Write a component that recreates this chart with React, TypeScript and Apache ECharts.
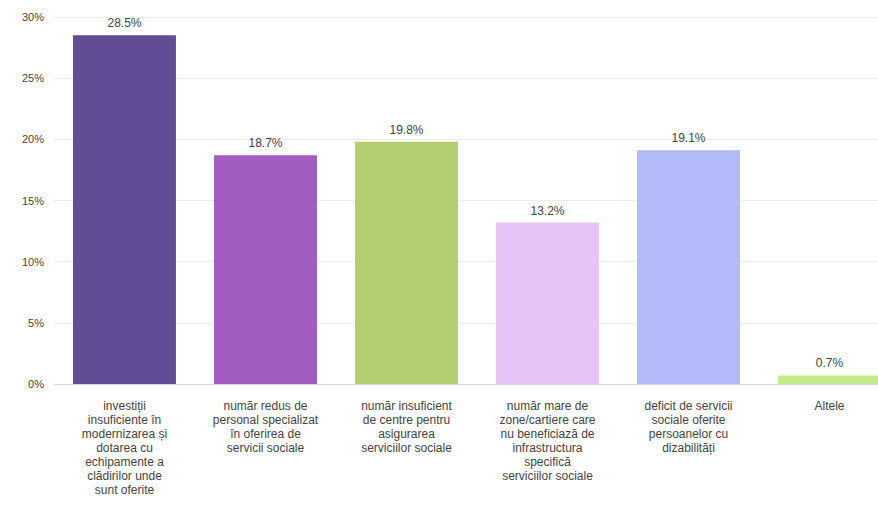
import React, { useEffect, useRef } from "react";
import * as echarts from "echarts";

const categories = [
  "investiții\ninsuficiente în\nmodernizarea și\ndotarea cu\nechipamente a\nclădirilor unde\nsunt oferite",
  "număr redus de\npersonal specializat\nîn oferirea de\nservicii sociale",
  "număr insuficient\nde centre pentru\nasigurarea\nserviciilor sociale",
  "număr mare de\nzone/cartiere care\nnu beneficiază de\ninfrastructura\nspecifică\nserviciilor sociale",
  "deficit de servicii\nsociale oferite\npersoanelor cu\ndizabilități",
  "Altele",
];
const values = [28.5, 18.7, 19.8, 13.2, 19.1, 0.7];
const colors = ["#624C96", "#A25DC2", "#B3CE6E", "#E6C4F5", "#B3BAFA", "#C2EA8A"];

export default function App() {
  const ref = useRef<HTMLDivElement>(null);
  useEffect(() => {
    const chart = echarts.init(ref.current!, undefined, { renderer: "svg" });
    chart.setOption({
      animation: false,
      grid: { left: 54, right: 0, top: 17, bottom: 124, containLabel: false },
      xAxis: {
        type: "category",
        data: categories,
        axisLine: { lineStyle: { color: "#d8d8d8" } },
        axisTick: { show: false },
        axisLabel: {
          interval: 0,
          color: "#444",
          fontFamily: "Liberation Sans, Arial, sans-serif",
          fontSize: 12,
          lineHeight: 14,
          margin: 15,
          align: "center",
        },
      },
      yAxis: {
        type: "value",
        min: 0,
        max: 30,
        interval: 5,
        axisLine: { show: false },
        axisTick: { show: false },
        splitLine: { lineStyle: { color: "#ececec" } },
        axisLabel: {
          formatter: "{value}%",
          color: "#444",
          fontFamily: "Liberation Sans, Arial, sans-serif",
          fontSize: 11,
          margin: 10,
        },
      },
      series: [
        {
          type: "bar",
          barWidth: "73%",
          data: values.map((v, i) => ({ value: v, itemStyle: { color: colors[i] } })),
          label: {
            show: true,
            position: "top",
            distance: 6,
            formatter: (p: any) => p.value.toFixed(1) + "%",
            color: "#444",
            fontFamily: "Liberation Sans, Arial, sans-serif",
            fontSize: 12,
          },
        },
      ],
    });
    return () => chart.dispose();
  }, []);
  return (
    <div style={{ width: 878, height: 508, position: "absolute", left: 0, top: 0, overflow: "hidden" }}>
      <div ref={ref} style={{ width: 900, height: 508 }} />
    </div>
  );
}
